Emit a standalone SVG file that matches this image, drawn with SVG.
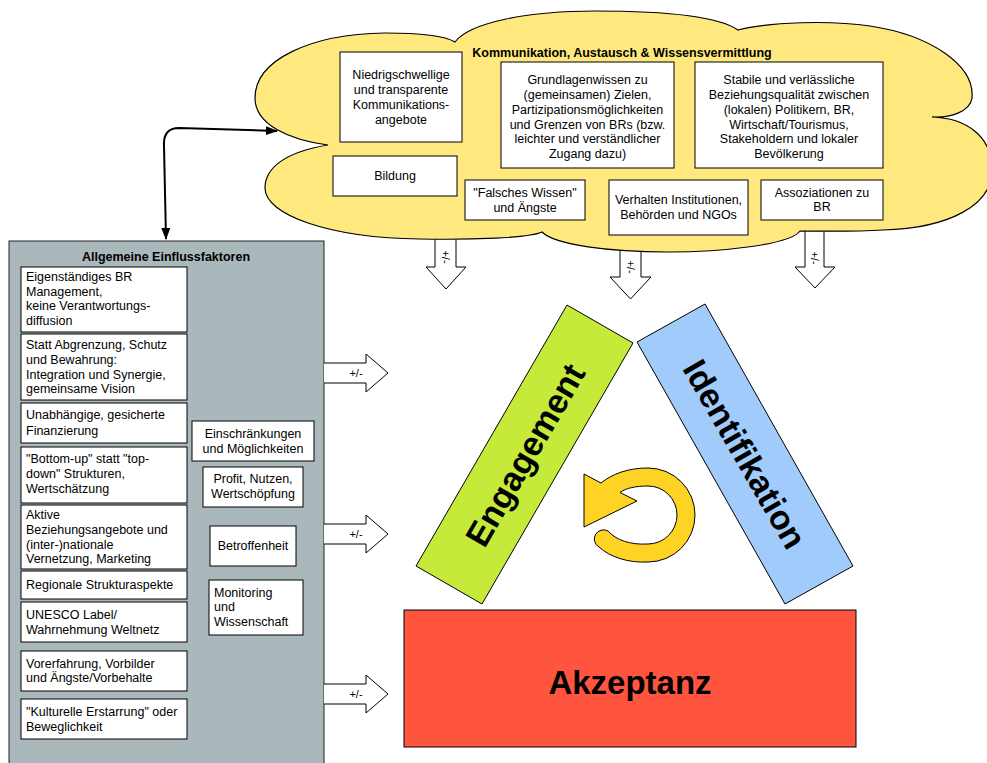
<svg xmlns="http://www.w3.org/2000/svg" width="987" height="763" viewBox="0 0 987 763">
  <defs>
    <style>
      .box { fill: #ffffff; stroke: #000000; stroke-width: 1; }
      .t { font-family: "Liberation Sans", Arial, Helvetica, sans-serif; font-size: 12.5px; fill: #000000; }
      .c { text-anchor: middle; }
      .b { font-weight: bold; }
      .big { font-family: "Liberation Sans", Arial, Helvetica, sans-serif; font-weight: bold; font-size: 34px; text-anchor: middle; fill: #000000; }
      .blockarrow { fill: #ffffff; stroke: #000000; stroke-width: 1; }
      .pm { font-family: "Liberation Sans", Arial, Helvetica, sans-serif; font-size: 11px; text-anchor: middle; fill: #000000; }
      .link { fill: none; stroke: #000000; stroke-width: 2; }
    </style>
    <marker id="head" viewBox="0 0 12 10" refX="11" refY="5" markerWidth="12" markerHeight="10" markerUnits="userSpaceOnUse" orient="auto-start-reverse">
      <path d="M0,0.5 L12,5 L0,9.5 z" fill="#000000"/>
    </marker>
  </defs>

  <!-- down arrows leaving the cloud (drawn first so the cloud hides their tops) -->
  <g id="connectors">
    <path class="blockarrow" d="M435,225 L435,267 L426,267 L446,289 L466,267 L456,267 L456,225"/>
    <path class="blockarrow" d="M620,225 L620,277 L610,277 L630.5,299 L651,277 L641,277 L641,225"/>
    <path class="blockarrow" d="M805,220 L805,267 L795,267 L815,288 L835,267 L824,267 L824,220"/>
  </g>

  <!-- communication cloud -->
  <g id="cloud">
    <path d="M328,145 C290,140 255,125 255,98 C255,60 310,34 385,33 C420,33 445,36 455,42 C470,22 530,11 595,11 C660,11 718,16 738,30 C770,22 830,20 870,26 C930,35 975,65 972,98 C970,112 950,118 932,117 C965,118 992,135 992,170 C992,205 950,228 883,230 C850,232 815,231 800,231 C790,245 720,252 668,252 C610,252 555,245 542,232 C530,238 470,240 420,239 C330,238 265,215 265,188 C265,168 285,152 328,145 Z" fill="#FFE97F" stroke="#000000" stroke-width="1.2"/>
    <text class="t b c" x="622" y="57">Kommunikation, Austausch &amp; Wissensvermittlung</text>
  </g>

  <g id="k-niedrig">
    <rect class="box" x="340" y="52" width="122" height="90"/>
    <text class="t c" x="401" y="79">Niedrigschwellige</text>
    <text class="t c" x="401" y="94">und transparente</text>
    <text class="t c" x="401" y="109">Kommunikations-</text>
    <text class="t c" x="401" y="124">angebote</text>
  </g>
  <g id="k-grundlagen">
    <rect class="box" x="501" y="62" width="173" height="106"/>
    <text class="t c" x="587.5" y="84">Grundlagenwissen zu</text>
    <text class="t c" x="587.5" y="99">(gemeinsamen) Zielen,</text>
    <text class="t c" x="587.5" y="114">Partizipationsmöglichkeiten</text>
    <text class="t c" x="587.5" y="129">und Grenzen von BRs (bzw.</text>
    <text class="t c" x="587.5" y="143">leichter und verständlicher</text>
    <text class="t c" x="587.5" y="158">Zugang dazu)</text>
  </g>
  <g id="k-stabile">
    <rect class="box" x="695" y="62" width="188" height="106"/>
    <text class="t c" x="789" y="84">Stabile und verlässliche</text>
    <text class="t c" x="789" y="99">Beziehungsqualität zwischen</text>
    <text class="t c" x="789" y="114">(lokalen) Politikern, BR,</text>
    <text class="t c" x="789" y="129">Wirtschaft/Tourismus,</text>
    <text class="t c" x="789" y="143">Stakeholdern und lokaler</text>
    <text class="t c" x="789" y="158">Bevölkerung</text>
  </g>
  <g id="k-bildung">
    <rect class="box" x="333" y="156" width="124" height="40"/>
    <text class="t c" x="395" y="180">Bildung</text>
  </g>
  <g id="k-falsches">
    <rect class="box" x="465" y="180" width="120" height="40"/>
    <text class="t c" x="525" y="197">"Falsches Wissen"</text>
    <text class="t c" x="525" y="212">und Ängste</text>
  </g>
  <g id="k-verhalten">
    <rect class="box" x="609" y="180" width="139" height="55"/>
    <text class="t c" x="678.5" y="204">Verhalten Institutionen,</text>
    <text class="t c" x="678.5" y="219">Behörden und NGOs</text>
  </g>
  <g id="k-assoziationen">
    <rect class="box" x="761" y="180" width="122" height="40"/>
    <text class="t c" x="822" y="197">Assoziationen zu</text>
    <text class="t c" x="822" y="211">BR</text>
  </g>

  <!-- general influence factors panel -->
  <g id="panel">
    <rect x="9" y="241" width="315" height="530" fill="#AAB8BC" stroke="#222222" stroke-width="1"/>
    <text class="t b c" x="166" y="261">Allgemeine Einflussfaktoren</text>
  </g>

  <g id="f-management">
    <rect class="box" x="21" y="267" width="166" height="65"/>
    <text class="t" x="26" y="281">Eigenständiges BR</text>
    <text class="t" x="26" y="295.5">Management,</text>
    <text class="t" x="26" y="310">keine Verantwortungs-</text>
    <text class="t" x="26" y="325">diffusion</text>
  </g>
  <g id="f-integration">
    <rect class="box" x="21" y="334" width="166" height="66"/>
    <text class="t" x="26" y="349">Statt Abgrenzung, Schutz</text>
    <text class="t" x="26" y="364">und Bewahrung:</text>
    <text class="t" x="26" y="379">Integration und Synergie,</text>
    <text class="t" x="26" y="393">gemeinsame Vision</text>
  </g>
  <g id="f-finanzierung">
    <rect class="box" x="21" y="403" width="166" height="40"/>
    <text class="t" x="26" y="419">Unabhängige, gesicherte</text>
    <text class="t" x="26" y="435">Finanzierung</text>
  </g>
  <g id="f-bottomup">
    <rect class="box" x="21" y="447" width="166" height="56"/>
    <text class="t" x="26" y="463">"Bottom-up" statt "top-</text>
    <text class="t" x="26" y="478">down" Strukturen,</text>
    <text class="t" x="26" y="493">Wertschätzung</text>
  </g>
  <g id="f-aktive">
    <rect class="box" x="21" y="505" width="166" height="64"/>
    <text class="t" x="26" y="519">Aktive</text>
    <text class="t" x="26" y="534">Beziehungsangebote und</text>
    <text class="t" x="26" y="549">(inter-)nationale</text>
    <text class="t" x="26" y="563">Vernetzung, Marketing</text>
  </g>
  <g id="f-regional">
    <rect class="box" x="21" y="571" width="166" height="28"/>
    <text class="t" x="26" y="589">Regionale Strukturaspekte</text>
  </g>
  <g id="f-unesco">
    <rect class="box" x="21" y="602" width="166" height="40"/>
    <text class="t" x="26" y="619">UNESCO Label/</text>
    <text class="t" x="26" y="634">Wahrnehmung Weltnetz</text>
  </g>
  <g id="f-vorerfahrung">
    <rect class="box" x="21" y="651" width="166" height="40"/>
    <text class="t" x="26" y="668">Vorerfahrung, Vorbilder</text>
    <text class="t" x="26" y="682">und Ängste/Vorbehalte</text>
  </g>
  <g id="f-kultur">
    <rect class="box" x="21" y="699" width="166" height="40"/>
    <text class="t" x="26" y="716">"Kulturelle Erstarrung" oder</text>
    <text class="t" x="26" y="731">Beweglichkeit</text>
  </g>

  <g id="f-einschraenkungen">
    <rect class="box" x="192" y="421" width="122" height="40"/>
    <text class="t c" x="253" y="438">Einschränkungen</text>
    <text class="t c" x="253" y="453">und Möglichkeiten</text>
  </g>
  <g id="f-profit">
    <rect class="box" x="203" y="467" width="100" height="40"/>
    <text class="t c" x="253" y="483">Profit, Nutzen,</text>
    <text class="t c" x="253" y="498">Wertschöpfung</text>
  </g>
  <g id="f-betroffenheit">
    <rect class="box" x="210" y="526" width="86" height="40"/>
    <text class="t c" x="253" y="550">Betroffenheit</text>
  </g>
  <g id="f-monitoring">
    <rect class="box" x="209" y="580" width="94" height="55"/>
    <text class="t" x="214" y="597">Monitoring</text>
    <text class="t" x="214" y="611">und</text>
    <text class="t" x="214" y="626">Wissenschaft</text>
  </g>

  <!-- connectors: influence arrows and the cloud/panel link -->
  <g id="links">
    <path class="link" d="M166,239 L164,146 Q163,128 179,128 L277,131" marker-start="url(#head)" marker-end="url(#head)"/>

    <path class="blockarrow" d="M324,363 L366,363 L366,354 L388,373 L366,392 L366,383 L324,383"/>
    <path class="blockarrow" d="M324,524 L366,524 L366,515 L388,534 L366,553 L366,544 L324,544"/>
    <path class="blockarrow" d="M324,684 L366,684 L366,675 L388,694 L366,713 L366,704 L324,704"/>
    <text class="pm" x="356" y="377">+/-</text>
    <text class="pm" x="356" y="538">+/-</text>
    <text class="pm" x="356" y="698">+/-</text>

    <text class="pm" transform="translate(446,257) rotate(90)" y="4">+/-</text>
    <text class="pm" transform="translate(630.5,267) rotate(90)" y="4">+/-</text>
    <text class="pm" transform="translate(815,258) rotate(90)" y="4">+/-</text>
  </g>

  <!-- triangle of acceptance -->
  <g id="engagement">
    <polygon points="567,305 633,343 482,604 416,566" fill="#C6EA3A" stroke="#000000" stroke-width="1"/>
    <text class="big" transform="translate(525,455) rotate(-60)" y="12">Engagement</text>
  </g>
  <g id="identifikation">
    <polygon points="705,304 853,566 785,604 637,342" fill="#A0CBFA" stroke="#000000" stroke-width="1"/>
    <text class="big" transform="translate(745,454) rotate(60)" y="12">Identifikation</text>
  </g>
  <g id="akzeptanz">
    <rect x="404" y="610" width="452" height="137" fill="#FF553F" stroke="#000000" stroke-width="1"/>
    <text class="big" x="630" y="694" style="font-size:33px">Akzeptanz</text>
  </g>

  <!-- cycle symbol in the middle -->
  <g id="cycle">
    <path d="M584,474 L601,483 C612,474 628,468 648,468 A47,47 0 0 1 695,515 A47,47 0 0 1 648,562 C628,563 610,557 599,547 A9,9 0 0 1 608,531 C616,540 630,545 648,544 A29,29 0 0 0 677,515 A29,29 0 0 0 648,486 C636,486 626,488 620,492.5 L637,501 L584,527 Z" fill="#FFD324" stroke="#000000" stroke-width="1"/>
  </g>
</svg>
